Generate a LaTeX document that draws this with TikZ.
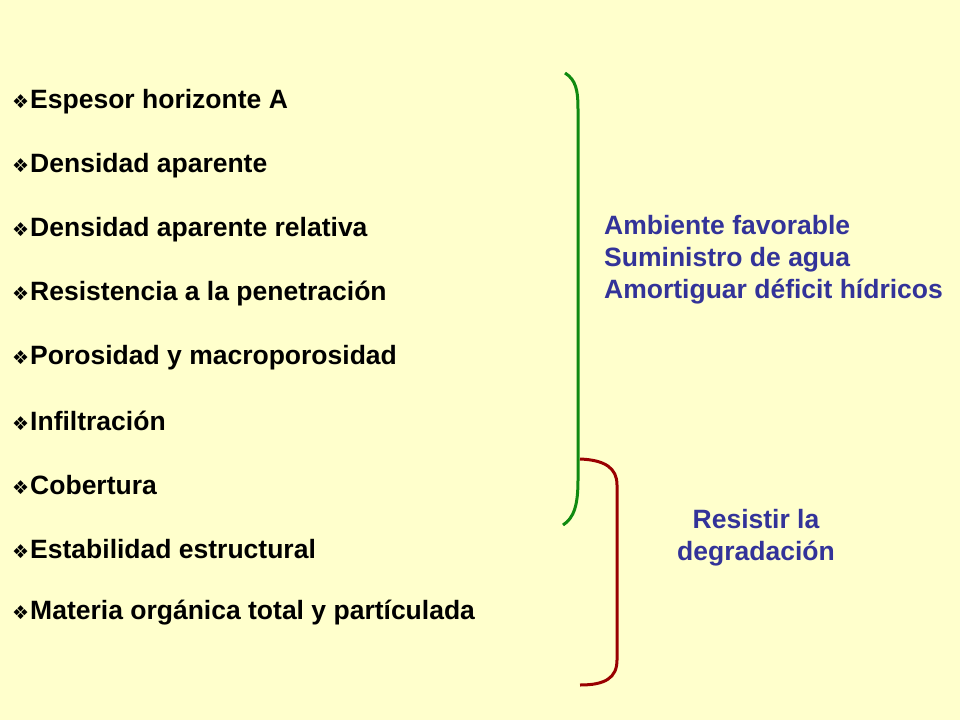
\documentclass[tikz,border=0pt]{standalone}
\usepackage{fontspec}
\setmainfont{Liberation Sans}
\newfontfamily\djv{DejaVu Sans}
\definecolor{bg}{HTML}{FFFFCC}
\definecolor{bluet}{HTML}{333399}
\definecolor{gbr}{HTML}{108A10}
\definecolor{rbr}{HTML}{990000}
\begin{document}
\begin{tikzpicture}[x=1pt,y=-1pt,
  item/.style={anchor=west,inner sep=0pt,font=\fontsize{26.5}{30}\selectfont\bfseries},
  side/.style={inner sep=0pt,text=bluet,font=\fontsize{26.5}{32}\selectfont\bfseries},
  br/.style={line width=3pt}]
\fill[bg] (0,0) rectangle (960,720);
\useasboundingbox (0,0) rectangle (960,720);
\foreach \t [count=\i] in {Espesor horizonte A,Densidad aparente,Densidad aparente relativa,Resistencia a la penetración,Porosidad y macroporosidad,Infiltración,Cobertura,Estabilidad estructural,Materia orgánica total y partículada}{
  \node[item] (i\i) at (12,{102+(\i-1)*63.8}) {{\djv\fontsize{19}{19}\selectfont ❖}\kern1pt\t};
}
\node[side,anchor=west,align=left] (a) at (604,260) {Ambiente favorable\\Suministro de agua\\Amortiguar déficit hídricos};
\node[side,align=center] (r) at (756,538) {Resistir la\\degradación};
\coordinate (g1) at (565,73); \coordinate (g2) at (563,525);
\coordinate (r1) at (580,459); \coordinate (r2) at (580,685);
\draw[br,gbr] (g1) .. controls (576,80) and (578,90) .. (578,110) -- (578,480) .. controls (578,505) and (574,518) .. (g2);
\draw[br,rbr] (r1) .. controls (605,460) and (617,468) .. (617,485) -- (617,660) .. controls (617,678) and (605,685) .. (r2);
\end{tikzpicture}
\end{document}
